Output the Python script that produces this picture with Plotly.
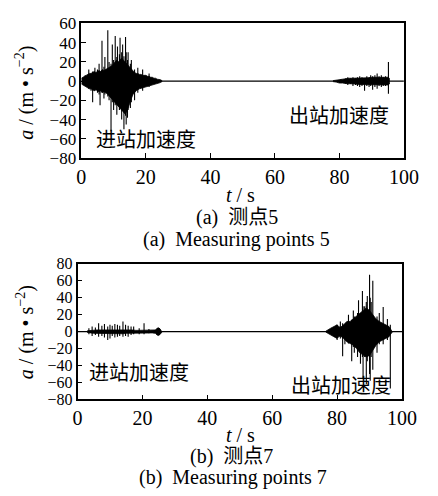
import plotly.graph_objects as go

# ---------------- data ----------------
x_ticks = [0, 20, 40, 60, 80, 100]
ya_ticks = [-80, -60, -40, -20, 0, 20, 40, 60]
yb_ticks = [-80, -60, -40, -20, 0, 20, 40, 60, 80]

baseline_t = [0, 100]
baseline_a = [0, 0]

# Panel (a) measuring point 5 — arrival burst envelope
a1_t = [0.0, 0.5, 1, 1.5, 2, 2.5, 3, 3.5, 4, 4.5, 5, 5.5, 6, 6.5, 7, 7.5, 8, 8.5, 9, 9.5, 10, 10.5, 11, 11.5,
        12, 12.5, 13, 13.5, 14, 14.5, 15, 15.5, 16, 16.5, 17, 17.5, 18, 18.5, 19, 19.5, 20, 20.5, 21, 21.5,
        22, 22.5, 23, 23.5, 24, 24.5, 25]
a1_hi = [3, 4, 5, 6, 7, 8, 8, 9, 10, 9, 10, 11, 10, 12, 11, 12, 13, 14, 15, 16, 18, 20, 22, 20,
         22, 24, 22, 20, 18, 16, 14, 12, 10, 9, 8, 8, 7, 7, 6, 6, 6, 5, 5, 4,
         4, 3, 3, 2, 2, 1.5, 0.5]
a1_lo = [-3, -4, -5, -6, -7, -8, -8, -9, -10, -9, -10, -11, -10, -12, -11, -12, -13, -14, -16, -18, -20, -22, -24, -26,
         -28, -30, -32, -34, -32, -28, -24, -18, -14, -12, -10, -9, -8, -7, -7, -6, -6, -5, -5, -4,
         -4, -3, -3, -2, -2, -1.5, -0.5]
a1_spk_t = [1.2, 2.3, 3.0, 3.5, 4.2, 5.0, 5.5, 5.8, 6.4, 7.0, 7.3, 8.2, 8.6, 9.2, 9.6, 10.0, 10.5, 11.0, 11.2,
            11.8, 12.0, 12.5, 12.8, 13.2, 13.7, 13.9, 14.3, 14.5, 15.2, 15.5, 16.5, 17.5, 19.0, 21.0]
a1_spk_hi = [6, 12, 8, 10, 14, 12, 18, 10, 42, 15, 25, 53, 20, 18, 38, 22, 47, 25, 36,
             28, 45, 30, 38, 26, 46, 30, 22, 30, 18, 22, 12, 14, 12, 8]
a1_spk_lo = [-5, -8, -10, -22, -10, -12, -14, -25, -12, -18, -14, -16, -20, -52, -22, -30, -25, -35, -24,
             -30, -28, -40, -30, -50, -36, -45, -38, -30, -28, -22, -20, -12, -10, -6]

# Panel (a) — departure burst
a2_t = [78, 79, 80, 81, 82, 83, 84, 85, 86, 87, 88, 89, 90, 91, 92, 93, 94, 95, 95.5]
a2_hi = [0.5, 1, 2, 2, 2.5, 3, 3, 3, 3.5, 3.5, 3.5, 3.5, 4, 4, 4, 4, 4, 4, 3]
a2_lo = [-0.5, -1, -2, -2, -2.5, -3, -3, -3, -3.5, -3.5, -3.5, -3.5, -4, -4, -4, -4, -4, -4, -3]
a2_spk_t = [80.5, 82.0, 82.6, 83.5, 84.2, 85.0, 85.6, 86.3, 87.0, 87.8, 88.5, 89.2, 89.7, 90.3, 91.0,
            91.7, 92.3, 93.0, 93.6, 94.3, 95.2]
a2_spk_hi = [2, 3, 4, 3, 4, 3, 4, 5, 4, 3, 5, 4, 6, 5, 6, 8, 5, 6, 4, 5, 20]
a2_spk_lo = [-2, -3, -4, -3, -5, -4, -5, -6, -5, -10, -5, -6, -5, -9, -6, -8, -5, -6, -5, -5, -13]

# Panel (b) measuring point 7 — arrival burst
b1_t = [3, 4, 5, 6, 7, 8, 9, 10, 11, 12, 13, 14, 15, 16, 17, 18, 19, 20, 21, 22, 23, 24, 24.5, 25, 25.5, 26]
b1_hi = [1, 1.5, 2, 2, 2, 2, 2, 2.5, 2.5, 2.5, 2.5, 2.5, 2, 2, 2, 1.5, 1.5, 1.5, 1.5, 1.5, 1.5, 2, 4, 4.5, 3, 0.5]
b1_lo = [-1, -1.5, -2, -2, -2, -2, -2, -2.5, -2.5, -2.5, -2.5, -2.5, -2, -2, -2, -1.5, -1.5, -1.5, -1.5, -1.5,
         -1.5, -2, -4, -4.5, -3, -0.5]
b1_spk_t = [3.5, 4.5, 5.5, 6.5, 7.5, 8.3, 9.3, 10.0, 10.7, 11.5, 12.3, 13.0, 14.0, 14.8, 15.6, 16.5, 17.3,
            19.0, 20.5, 22.0, 24.8, 25.2]
b1_spk_hi = [4, 6, 5, 10, 7, 9, 6, 8, 7, 9, 8, 7, 12, 8, 7, 6, 6, 4, 10, 3, 4, 4]
b1_spk_lo = [-3, -5, -4, -6, -5, -7, -10, -8, -5, -7, -6, -5, -6, -5, -6, -4, -3, -3, -3, -2, -4, -4]

# Panel (b) — departure burst
b2_t = [76.5, 77, 78, 79, 80, 80.5, 81, 82, 83, 84, 85, 86, 87, 88, 89, 90, 91, 92, 93, 94, 95, 96, 96.5, 97]
b2_hi = [0.5, 2, 4, 6, 8, 6, 5, 8, 12, 12, 15, 18, 22, 25, 28, 25, 20, 15, 12, 10, 8, 6, 3, 0.5]
b2_lo = [-0.5, -2, -4, -6, -8, -6, -5, -8, -12, -14, -16, -20, -25, -28, -30, -28, -22, -16, -12, -10, -8,
         -6, -3, -0.5]
b2_spk_t = [80.0, 81.0, 81.7, 82.4, 83.5, 84.5, 85.0, 85.3, 86.3, 86.6, 87.2, 87.8, 88.0, 88.5, 89.0, 89.3,
            90.0, 90.2, 90.5, 91.0, 92.3, 93.0, 94.2, 95.5, 96.4]
b2_spk_hi = [8, 12, 10, 8, 20, 14, 25, 18, 22, 37, 22, 48, 30, 30, 35, 42, 67, 40, 35, 60, 18, 22, 29, 15, 8]
b2_spk_lo = [-10, -8, -29, -15, -14, -35, -18, -25, -30, -20, -38, -30, -55, -30, -62, -35, -50, -58, -30,
             -45, -25, -15, -15, -10, -67]

# ---------------- helpers ----------------
W, H = 438, 496
def px(x):
    return x / W
def py(y):
    return 1 - y / H

LAT = "Liberation Serif, Times New Roman, serif"
SERIF = "Liberation Serif, Noto Sans CJK SC, serif"
CJK = "Noto Sans CJK SC"

fig = go.Figure()

def add_body(t, hi, lo, xa, ya):
    fig.add_trace(go.Scatter(x=list(t) + list(t)[::-1], y=list(hi) + list(lo)[::-1],
                             mode="lines", fill="toself", fillcolor="black",
                             line=dict(color="black", width=0.8),
                             xaxis=xa, yaxis=ya, hoverinfo="skip", showlegend=False))

def add_spikes(t, hi, lo, xa, ya):
    xs, ys = [], []
    for ti, h, l in zip(t, hi, lo):
        xs += [ti, ti, None]
        ys += [l, h, None]
    fig.add_trace(go.Scatter(x=xs, y=ys, mode="lines", line=dict(color="black", width=1.1),
                             xaxis=xa, yaxis=ya, hoverinfo="skip", showlegend=False))

def add_base(xa, ya):
    fig.add_trace(go.Scatter(x=baseline_t, y=baseline_a, mode="lines",
                             line=dict(color="black", width=1.2),
                             xaxis=xa, yaxis=ya, hoverinfo="skip", showlegend=False))

add_base("x", "y")
add_body(a1_t, a1_hi, a1_lo, "x", "y")
add_spikes(a1_spk_t, a1_spk_hi, a1_spk_lo, "x", "y")
add_body(a2_t, a2_hi, a2_lo, "x", "y")
add_spikes(a2_spk_t, a2_spk_hi, a2_spk_lo, "x", "y")

add_base("x2", "y2")
add_body(b1_t, b1_hi, b1_lo, "x2", "y2")
add_spikes(b1_spk_t, b1_spk_hi, b1_spk_lo, "x2", "y2")
add_body(b2_t, b2_hi, b2_lo, "x2", "y2")
add_spikes(b2_spk_t, b2_spk_hi, b2_spk_lo, "x2", "y2")

axis_common = dict(showline=True, linecolor="black", linewidth=1.5, mirror=True,
                   ticks="inside", ticklen=5, tickwidth=1.2, tickcolor="black",
                   showgrid=False, zeroline=False)
xfont = dict(family=LAT, size=20, color="black")
yfont_a = dict(family=LAT, size=17, color="black")
yfont_b = dict(family=LAT, size=16, color="black")

fig.update_layout(
    width=W, height=H, margin=dict(l=0, r=0, t=0, b=0),
    font=dict(family=LAT, color="black"),
    paper_bgcolor="white", plot_bgcolor="white", showlegend=False,
    xaxis=dict(domain=[px(80), px(418)], range=[0, 100], tickvals=x_ticks, anchor="y",
               tickfont=xfont, **axis_common),
    yaxis=dict(domain=[py(155), py(15)], range=[-80, 60], tickvals=ya_ticks, anchor="x",
               tickfont=yfont_a, **axis_common),
    xaxis2=dict(domain=[px(76), px(416)], range=[0, 100], tickvals=x_ticks, anchor="y2",
                tickfont=xfont, **axis_common),
    yaxis2=dict(domain=[py(406), py(265)], range=[-80, 80], tickvals=yb_ticks, anchor="x2",
                tickfont=yfont_b, **axis_common),
)

def note(text, x, y, size=20, family=SERIF, angle=0):
    fig.add_annotation(text=text, x=px(x), y=py(y), xref="paper", yref="paper",
                       xanchor="center", yanchor="middle", showarrow=False, textangle=angle,
                       font=dict(family=family, size=size, color="black"))

ytitle = "<i>a</i> / (m • s<sup>−2</sup>)"
note(ytitle, 21, 87, size=20, family=LAT, angle=-90)
note(ytitle, 21, 336, size=20, family=LAT, angle=-90)
note("<i>t</i> / s", 247, 193, size=20, family=LAT)
note("<i>t</i> / s", 247, 443, size=20, family=LAT)

note("进站加速度", 148, 135, size=20, family=CJK)
note("出站加速度", 350, 110, size=20, family=CJK)
note("进站加速度", 140, 377, size=20, family=CJK)
note("出站加速度", 352, 390, size=20, family=CJK)

note("(a)\u00a0\u00a0测点5", 243, 217, size=20)
note("(a)\u00a0\u00a0Measuring points 5", 243, 240, size=20, family=LAT)
note("(b)\u00a0\u00a0测点7", 237, 465, size=20)
note("(b)\u00a0\u00a0Measuring points 7", 239, 487, size=20, family=LAT)

fig.write_html("out.html")
